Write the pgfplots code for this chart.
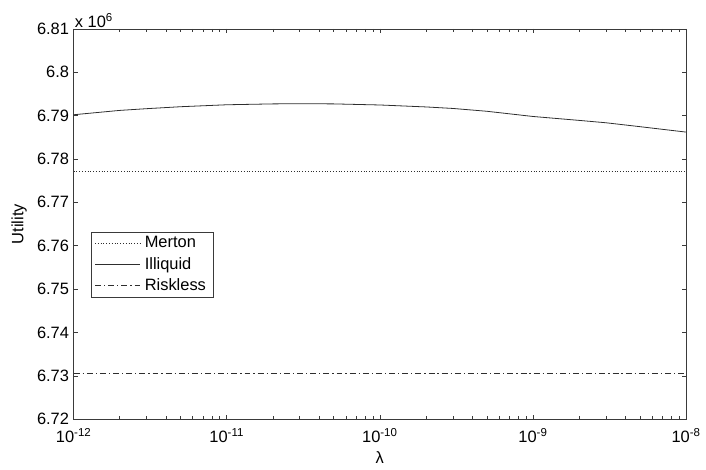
\documentclass[border=0pt]{standalone}
\usepackage{fontspec}
\setmainfont{Liberation Sans}
\usepackage{pgfplots}
\pgfplotsset{compat=1.18}

\definecolor{axisgray}{HTML}{3A3A3A}
\definecolor{linegray}{HTML}{2E2E2E}

\begin{document}
\fontsize{16.5}{19}\selectfont
\begin{tikzpicture}
\begin{axis}[
  scale only axis,
  width=615pt, height=392pt,
  xmode=log,
  xmin=1e-12, xmax=1e-8,
  ymin=6720000, ymax=6810000,
  xtick={1e-12,1e-11,1e-10,1e-9,1e-8},
  xticklabels={10\textsuperscript{-12},10\textsuperscript{-11},10\textsuperscript{-10},10\textsuperscript{-9},10\textsuperscript{-8}},
  ytick={6720000,6730000,6740000,6750000,6760000,6770000,6780000,6790000,6800000,6810000},
  minor y tick num=0,
  scaled y ticks=base 10:-6,
  ytick scale label code/.code={x 10\textsuperscript{6}},
  every y tick scale label/.style={at={(rel axis cs:0,1)}, anchor=south west, inner sep=1pt, xshift=-1pt},
  yticklabel style={/pgf/number format/fixed, /pgf/number format/precision=2, /pgf/number format/assume math mode=true, xshift=1pt},
  xticklabel style={yshift=-8pt, inner ysep=1pt},
  tick align=inside,
  major tick length=4.5pt,
  minor tick length=2.8pt,
  axis line style={axisgray, line width=0.7pt},
  every tick/.style={axisgray, line width=0.6pt},
  xlabel={λ},
  ylabel={Utility},
  xlabel style={yshift=-2pt},
  ylabel style={yshift=-1pt},
  legend cell align=left,
  legend style={at={(rel axis cs:0.029,0.48)}, anchor=north west,
    draw=axisgray, line width=0.6pt, inner xsep=3pt, inner ysep=2.5pt,
    row sep=3pt, font=\fontsize{16.5}{19}\selectfont,
    nodes={inner xsep=4.5pt}},
  legend image code/.code={\draw[#1] (0pt,0pt) -- (45pt,0pt);},
  clip=false,
]
% Merton benchmark (constant in lambda)
\addplot[linegray, line width=0.8pt, dotted] coordinates {(1e-12,6777200) (1e-8,6777200)};
\addlegendentry{Merton}
% Illiquid investor's utility
\addplot[linegray, line width=0.8pt] coordinates {
  (1e-12,6790200) (2e-12,6791200) (3e-12,6791600) (5e-12,6792050)
  (1e-11,6792500) (2e-11,6792700) (3e-11,6792750) (5e-11,6792700)
  (1e-10,6792450) (2e-10,6792000) (3e-10,6791650) (5e-10,6791000)
  (1e-9,6789800) (2e-9,6788900) (3e-9,6788350) (5e-9,6787450)
  (1e-8,6786200)};
\addlegendentry{Illiquid}
% Riskless-only strategy
\addplot[linegray, line width=0.8pt, dash pattern=on 6pt off 3pt on 1.2pt off 3pt] coordinates {(1e-12,6730500) (1e-8,6730500)};
\addlegendentry{Riskless}
\end{axis}
\path ([shift={(-74pt,-51pt)}]current axis.south west) rectangle ([shift={(17pt,29pt)}]current axis.north east);
\end{tikzpicture}
\end{document}
